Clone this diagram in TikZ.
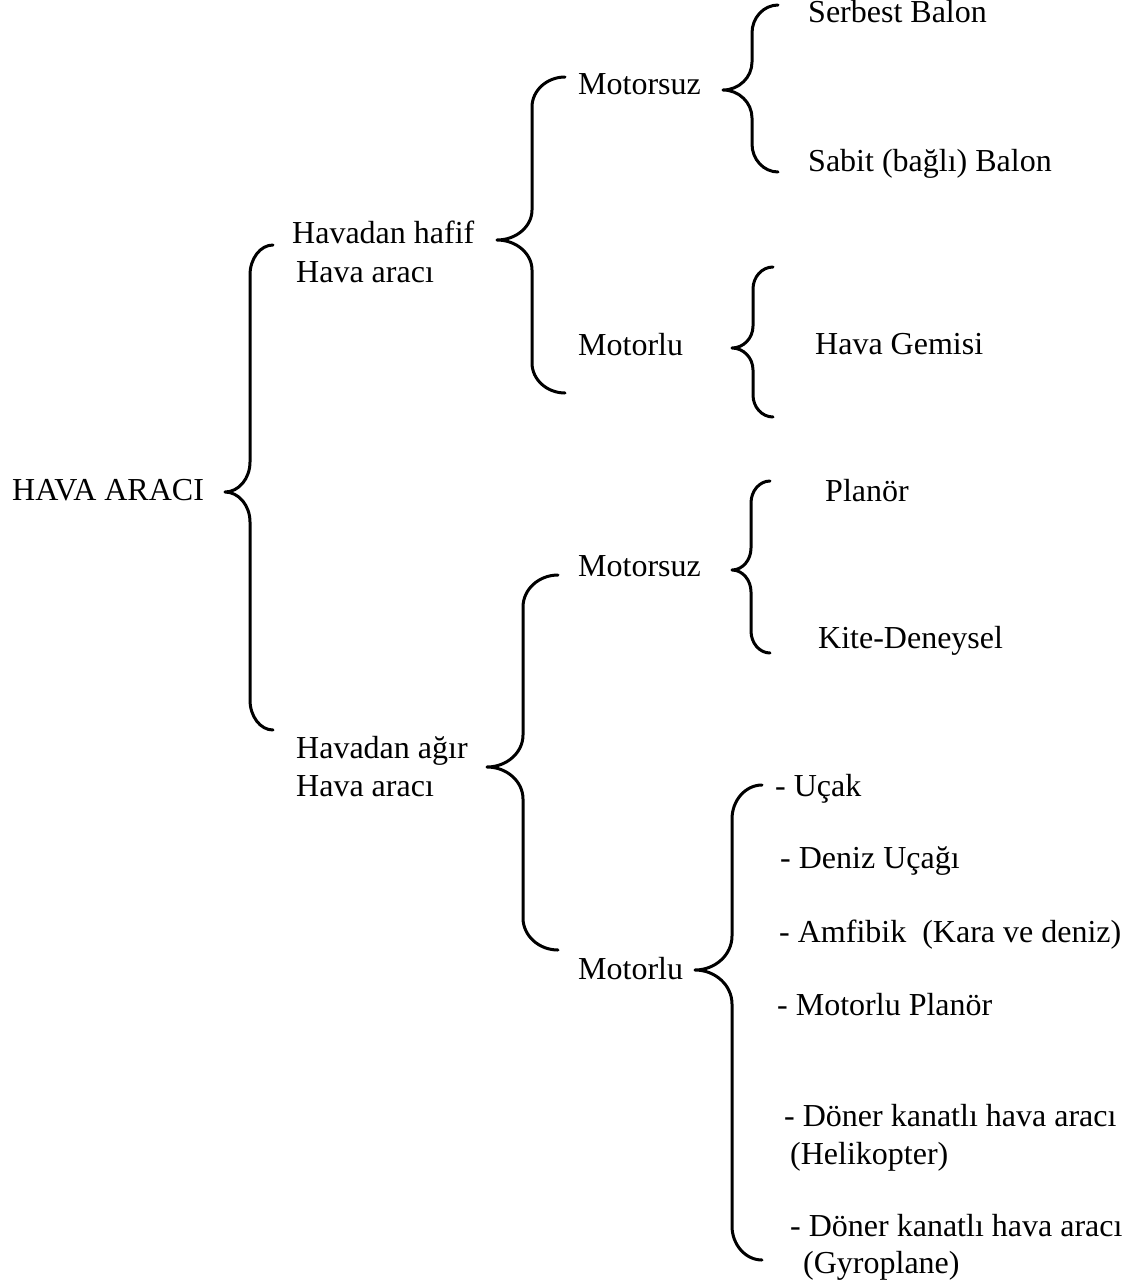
\documentclass[tikz,border=0pt]{standalone}
\usepackage{fontspec}
\setmainfont{Liberation Serif}
\newfontfamily\tnrfont{Liberation Serif}
\newcommand\mybrace[7]{% xe, xl, xt, ytop, ymid, ybot, r
  \draw[bracestyle] (#1,#4) .. controls ({#1-0.55*(#1-#2)},#4) and (#2,{#4+0.45*#7}) .. (#2,#4+#7)
    -- (#2,#5-#7)
    .. controls (#2,{#5-0.45*#7}) and ({#3+0.55*(#2-#3)},#5) .. (#3,#5)
    .. controls ({#3+0.55*(#2-#3)},#5) and (#2,{#5+0.45*#7}) .. (#2,#5+#7)
    -- (#2,#6-#7)
    .. controls (#2,{#6-0.45*#7}) and ({#1-0.55*(#1-#2)},#6) .. (#1,#6);}
\begin{document}
\begin{tikzpicture}[x=1pt,y=-1pt,
  bracestyle/.style={line width=3pt,line cap=round,line join=round},
  lbl/.style={anchor=base west,inner sep=0pt,font=\tnrfont\fontsize{32}{38}\selectfont}]
\useasboundingbox (0,0) rectangle (1132,1285);
% labels
\node[lbl] (root) at (12,500) {HAVA ARACI};
\node[lbl] (hafif1) at (292,243) {Havadan hafif};
\node[lbl] (hafif2) at (296,282) {Hava aracı};
\node[lbl] (agir1) at (296,758) {Havadan ağır};
\node[lbl] (agir2) at (296,796) {Hava aracı};
\node[lbl] (m1) at (578,94) {Motorsuz};
\node[lbl] (m2) at (578,355) {Motorlu};
\node[lbl] (m3) at (578,576) {Motorsuz};
\node[lbl] (m4) at (578,979) {Motorlu};
\node[lbl] (serbest) at (808,22) {Serbest Balon};
\node[lbl] (sabit) at (808,171) {Sabit (bağlı) Balon};
\node[lbl] (gemi) at (815,354) {Hava Gemisi};
\node[lbl] (planor) at (825,501) {Planör};
\node[lbl] (kite) at (818,648) {Kite-Deneysel};
\node[lbl] (ucak) at (775,796) {- Uçak};
\node[lbl] (deniz) at (780,868) {- Deniz Uçağı};
\node[lbl] (amfi) at (779,942) {- Amfibik\ \ (Kara ve deniz)};
\node[lbl] (motpl) at (777,1015) {- Motorlu Planör};
\node[lbl] (doner1) at (784,1126) {- Döner kanatlı hava aracı};
\node[lbl] (heli) at (790,1164) {(Helikopter)};
\node[lbl] (doner2) at (790,1236) {- Döner kanatlı hava aracı};
\node[lbl] (gyro) at (803,1273) {(Gyroplane)};
% braces
\mybrace{273}{250}{225}{245}{492}{730}{30}
\mybrace{565}{532}{497}{77}{240}{393}{30}
\mybrace{778}{752}{723}{5}{90}{172}{28}
\mybrace{773}{753}{732}{267}{348}{417}{22}
\mybrace{770}{751}{732}{481}{570}{653}{22}
\mybrace{558}{523}{487}{575}{767}{950}{32}
\mybrace{762}{732}{695}{785}{970}{1260}{34}
\end{tikzpicture}
\end{document}
